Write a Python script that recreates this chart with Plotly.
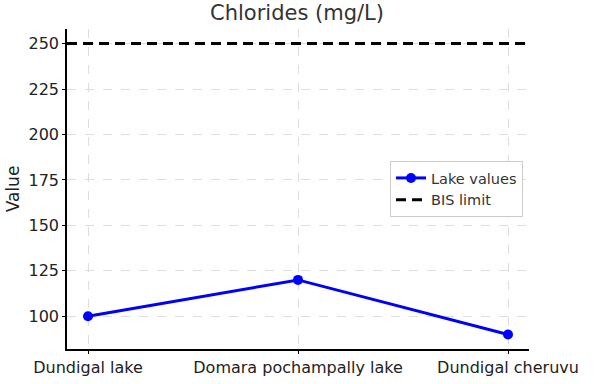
import plotly.graph_objects as go

lakes = ["Dundigal lake", "Domara pochampally lake", "Dundigal cheruvu"]
chloride_values = [100, 120, 90]
bis_limit = 250
y_ticks = [100, 125, 150, 175, 200, 225, 250]

fig = go.Figure()
fig.add_trace(go.Scatter(
    x=[0, 1, 2], y=chloride_values, mode="lines+markers", name="Lake values",
    line=dict(color="#0000ff", width=3), marker=dict(size=10, color="#0000ff"),
))
fig.add_trace(go.Scatter(
    x=[-0.1, 2.1], y=[bis_limit, bis_limit], mode="lines", name="BIS limit",
    line=dict(color="black", width=3, dash="10px,6px"),
))

font = "DejaVu Sans, sans-serif"
fig.update_layout(
    width=594, height=384,
    margin=dict(l=67, r=65, t=29, b=35),
    paper_bgcolor="white", plot_bgcolor="white",
    font=dict(family=font, size=16, color="#222"),
    title=dict(text="Chlorides (mg/L)", x=0.5, xanchor="center",
               yref="container", y=1 - 13 / 384, yanchor="middle",
               font=dict(size=21, color="#333")),
    showlegend=True,
    legend=dict(x=0.987, xanchor="right", y=0.5, yanchor="middle",
                bgcolor="white", bordercolor="#cccccc", borderwidth=1,
                font=dict(size=14.5, color="#333")),
    xaxis=dict(
        range=[-0.1, 2.1], tickmode="array", tickvals=[0, 1, 2], ticktext=lakes,
        showline=True, linecolor="black", linewidth=1.5, mirror=False,
        ticks="outside", ticklen=3, tickcolor="black",
        showgrid=True, gridcolor="#dddddd", griddash="dash", gridwidth=1,
        zeroline=False, tickfont=dict(size=16), automargin=False,
    ),
    yaxis=dict(
        range=[82, 258], tickmode="array", tickvals=y_ticks,
        showline=True, linecolor="black", linewidth=1.5, mirror=False,
        ticks="outside", ticklen=3, tickcolor="black",
        showgrid=True, gridcolor="#dddddd", griddash="dash", gridwidth=1,
        zeroline=False, tickfont=dict(size=16), automargin=False,
        title=dict(text="Value", font=dict(size=17), standoff=5),
    ),
)

fig.write_html("out.html", config={"displayModeBar": False},
               post_script="document.body.style.margin='0';")
